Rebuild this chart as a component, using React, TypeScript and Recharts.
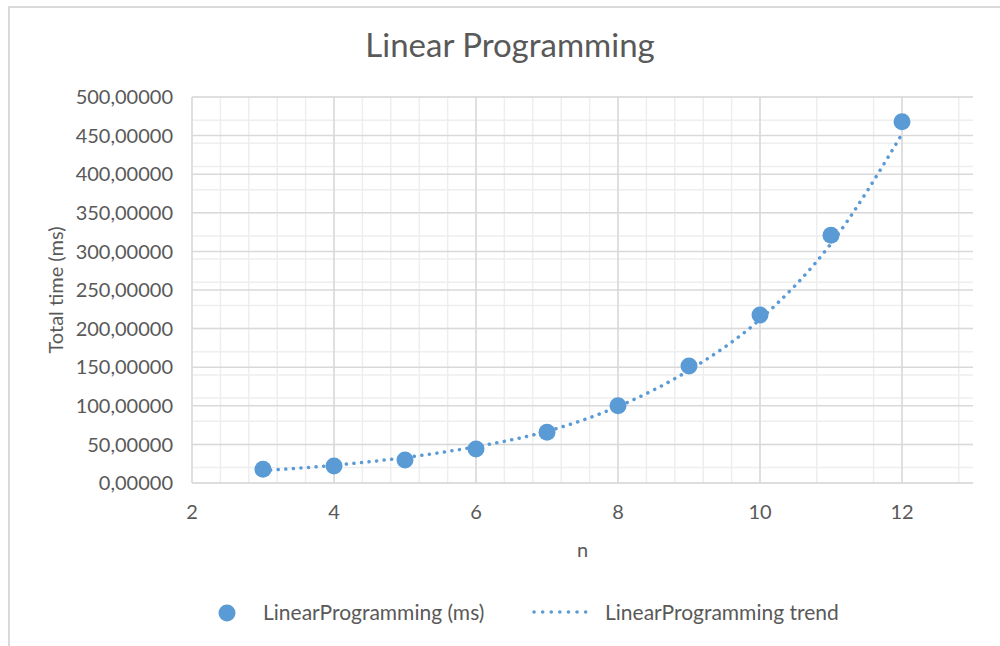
import React from "react";
import {
  ComposedChart,
  Scatter,
  Line,
  XAxis,
  YAxis,
  CartesianGrid,
  Legend,
} from "recharts";

const nValues = [3, 4, 5, 6, 7, 8, 9, 10, 11, 12];
const timeMs = [17.7, 22, 29.8, 44, 65.7, 100, 151.5, 217.6, 321, 468];
const trendMs = [16, 23, 33, 47, 67, 99, 146, 212, 310, 452];

const xTicks = [2, 4, 6, 8, 10, 12];
const yTicks = [0, 50, 100, 150, 200, 250, 300, 350, 400, 450, 500];

// minor gridlines, Excel style
const xMinor = Array.from({ length: 28 }, (_, i) => +(2 + i * 0.4).toFixed(1));
const yMinor = Array.from({ length: 51 }, (_, i) => i * 10);

const BLUE = "#5B9BD5";
const TEXT = "#595959";
const FONT = "Lato, 'Open Sans', sans-serif";

const points = nValues.map((n, i) => ({ n, time: timeMs[i] }));
const trend = nValues.map((n, i) => ({ n, trend: trendMs[i] }));

const formatY = (v: number) => v.toFixed(5).replace(".", ",");

function LegendContent() {
  return (
    <svg width={1000} height={30} style={{ display: "block" }}>
      <circle cx={227} cy={15} r={8.5} fill={BLUE} />
      <text x={263} y={22} fill={TEXT} fontSize={21} fontFamily={FONT}>
        LinearProgramming (ms)
      </text>
      <line
        x1={534}
        y1={14}
        x2={594}
        y2={14}
        stroke={BLUE}
        strokeWidth={3.5}
        strokeDasharray="0.1 8.5"
        strokeLinecap="round"
      />
      <text x={605} y={22} fill={TEXT} fontSize={21} fontFamily={FONT}>
        LinearProgramming trend
      </text>
    </svg>
  );
}

export default function App() {
  return (
    <div style={{ position: "fixed", left: 0, top: 0, width: 1000, height: 646, overflow: "hidden", background: "#fff" }}>
      <div style={{ position: "absolute", left: 8, top: 6, width: 2, height: 640, background: "#d9d9d9" }} />
      <div style={{ position: "absolute", left: 8, top: 6, width: 992, height: 2, background: "#d9d9d9" }} />
      <div
        style={{
          position: "absolute",
          left: 0,
          width: 1020,
          top: 24,
          textAlign: "center",
          fontFamily: FONT,
          fontSize: 33,
          color: TEXT,
          lineHeight: "40px",
        }}
      >
        Linear Programming
      </div>
      <div style={{ position: "absolute", left: 0, top: 0 }}>
        <ComposedChart
          width={1000}
          height={646}
          margin={{ top: 97, right: 27, left: 0, bottom: 103 }}
        >
          <CartesianGrid
            stroke="#eeeeee"
            strokeWidth={1.5}
            horizontalValues={yMinor}
            verticalValues={xMinor}
          />
          <CartesianGrid
            stroke="#d9d9d9"
            strokeWidth={1.5}
            horizontalValues={yTicks}
            verticalValues={xTicks}
          />
          <XAxis
            type="number"
            dataKey="n"
            domain={[2, 13]}
            ticks={xTicks}
            allowDuplicatedCategory={false}
            height={60}
            stroke="#d9d9d9"
            tickLine={false}
            tickMargin={16}
            tick={{ fill: TEXT, fontSize: 20, fontFamily: FONT }}
            label={{
              content: ({ viewBox }: any) => (
                <text
                  x={viewBox.x + viewBox.width / 2}
                  y={viewBox.y + 74}
                  textAnchor="middle"
                  fill={TEXT}
                  fontSize={20}
                  fontFamily={FONT}
                >
                  n
                </text>
              ),
            }}
          />
          <YAxis
            type="number"
            domain={[0, 500]}
            ticks={yTicks}
            width={192}
            axisLine={false}
            tickLine={false}
            tickMargin={13}
            tickFormatter={formatY}
            tick={{ fill: TEXT, fontSize: 20, fontFamily: FONT }}
            label={{
              content: ({ viewBox }: any) => {
                const cx = 55;
                const cy = viewBox.y + viewBox.height / 2;
                return (
                  <text
                    x={cx}
                    y={cy}
                    transform={`rotate(-90 ${cx} ${cy})`}
                    textAnchor="middle"
                    dominantBaseline="central"
                    fill={TEXT}
                    fontSize={20}
                    fontFamily={FONT}
                  >
                    Total time (ms)
                  </text>
                );
              },
            }}
          />
          <Legend
            verticalAlign="middle"
            layout="horizontal"
            wrapperStyle={{ top: 598, left: 0, width: 1000 }}
            content={() => <LegendContent />}
          />
          <Line
            data={trend}
            dataKey="trend"
            name="LinearProgramming trend"
            type="monotone"
            stroke={BLUE}
            strokeWidth={3.5}
            strokeDasharray="0.1 7.5"
            strokeLinecap="round"
            dot={false}
            activeDot={false}
            isAnimationActive={false}
          />
          <Scatter
            data={points}
            dataKey="time"
            name="LinearProgramming (ms)"
            fill={BLUE}
            shape={(p: any) => <circle cx={p.cx} cy={p.cy} r={8.5} fill={BLUE} />}
            isAnimationActive={false}
          />
        </ComposedChart>
      </div>
    </div>
  );
}
